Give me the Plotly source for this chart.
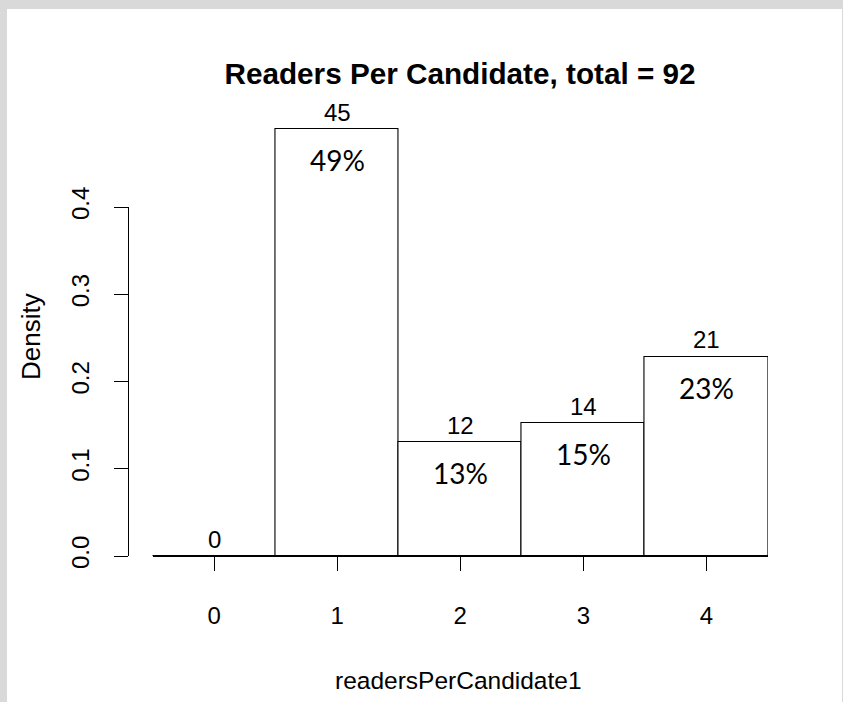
import plotly.graph_objects as go

# ---- data ----
categories = [0, 1, 2, 3, 4]
counts = [0, 45, 12, 14, 21]
percent_labels = ["", "49%", "13%", "15%", "23%"]
y_ticks = [0.0, 0.1, 0.2, 0.3, 0.4]
y_tick_labels = ["0.0", "0.1", "0.2", "0.3", "0.4"]
x_tick_labels = ["0", "1", "2", "3", "4"]
total = sum(counts)
density = [c / total for c in counts]
title_text = f"Readers Per Candidate, total = {total}"

# ---- layout geometry ----
W, H = 843, 702
ML, MR, MT, MB = 100, 75, 102, 146
PW = W - ML - MR
PH = H - MT - MB
PX_PER_UNIT_Y = 872.5
y_top = PH / PX_PER_UNIT_Y
xd0 = (152.5 - ML) / PW
base_font = "Liberation Sans, Arial, sans-serif"


def px_x(px):
    return (px - ML) / PW


def px_y(py):
    return (H - MB - py) / PH


fig = go.Figure()
fig.add_trace(go.Bar(
    x=categories, y=density, width=1,
    marker=dict(color="white", line=dict(color="black", width=1.1)),
    hoverinfo="skip", showlegend=False,
))
fig.add_trace(go.Scatter(
    x=categories, y=density, xaxis="x", yaxis="y2", mode="markers",
    marker=dict(opacity=0), hoverinfo="skip", showlegend=False,
))

annotations = []
for c, d, n, p in zip(categories, density, counts, percent_labels):
    annotations.append(dict(
        x=c, y=d, xref="x", yref="y", text=str(n), showarrow=False,
        yanchor="middle", xanchor="center", yshift=17,
        font=dict(family=base_font, size=24, color="black"),
    ))
    if p:
        annotations.append(dict(
            x=c, y=d, xref="x", yref="y", text=p, showarrow=False,
            yanchor="middle", xanchor="center", yshift=-31,
            font=dict(family="Lato, Carlito, sans-serif", size=28, color="black"),
        ))

annotations.append(dict(
    x=px_x(31), y=px_y(337), xref="paper", yref="paper", text="Density",
    textangle=-90, showarrow=False, xanchor="center", yanchor="middle",
    font=dict(family=base_font, size=26, color="black"),
))
annotations.append(dict(
    x=px_x(458.5), y=px_y(680), xref="paper", yref="paper",
    text="readersPerCandidate1", showarrow=False, xanchor="center", yanchor="middle",
    font=dict(family=base_font, size=24.5, color="black"),
))

shapes = [dict(
    type="rect", xref="paper", yref="paper", layer="below",
    x0=px_x(7), x1=px_x(842), y0=px_y(H + 5), y1=px_y(9),
    fillcolor="white", line=dict(width=0),
)]

fig.update_layout(
    width=W, height=H,
    margin=dict(l=ML, r=MR, t=MT, b=MB, pad=0),
    paper_bgcolor="#d9d9d9",
    plot_bgcolor="rgba(0,0,0,0)",
    bargap=0,
    showlegend=False,
    title=dict(
        text=f"<b>{title_text}</b>", xref="container", yref="container",
        x=460 / W, y=1 - 74 / H, xanchor="center", yanchor="middle",
        font=dict(family=base_font, size=29.7, color="black"),
    ),
    xaxis=dict(
        domain=[xd0, 1], range=[-0.5, 4.5], showline=True, linecolor="black",
        linewidth=1, ticks="outside", ticklen=14, tickwidth=1, tickcolor="black",
        tickvals=categories, ticktext=x_tick_labels, showgrid=False, zeroline=False,
        tickfont=dict(family=base_font, size=24, color="black"),
        ticklabelstandoff=24,
    ),
    yaxis=dict(domain=[0, 1], range=[0, y_top], visible=False, showgrid=False,
               zeroline=False),
    yaxis2=dict(
        domain=[0, 0.4 * PX_PER_UNIT_Y / PH], range=[0, 0.4], anchor="free",
        position=px_x(127.5), side="left", showline=True, linecolor="black",
        linewidth=1, ticks="outside", ticklen=14, tickwidth=1, tickcolor="black",
        tickvals=y_ticks, ticktext=y_tick_labels, tickangle=-90,
        showgrid=False, zeroline=False,
        tickfont=dict(family=base_font, size=24, color="black"),
        ticklabelstandoff=15,
    ),
    annotations=annotations,
    shapes=shapes,
)

fig.write_html(
    "out.html",
    config={"displayModeBar": False},
    post_script="document.body.style.margin='0';document.body.style.padding='0';",
)
